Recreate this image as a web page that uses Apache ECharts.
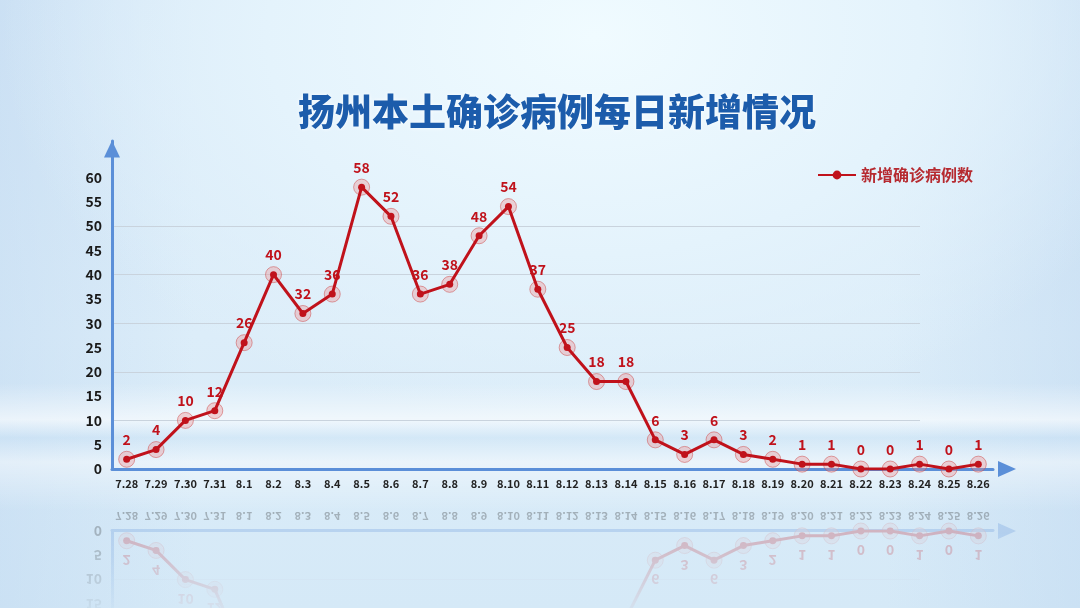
<!DOCTYPE html>
<html>
<head>
<meta charset="utf-8">
<script src="https://cdn.jsdelivr.net/npm/echarts@6/dist/echarts.min.js"></script>
<style>
  html, body { margin: 0; padding: 0; }
  body {
    width: 1080px; height: 608px; overflow: hidden; position: relative;
    background:
      linear-gradient(180deg, rgba(255,255,255,0) 63%, rgba(255,255,255,0.6) 69%, rgba(200,225,245,0.35) 72%, rgba(255,255,255,0.45) 76%, rgba(255,255,255,0) 84%),
      radial-gradient(ellipse 55% 65% at 55% 6%, #f0fbff 0%, #e4f3fc 55%, rgba(228,241,251,0) 100%),
      linear-gradient(90deg, rgba(190,215,240,0.45) 0%, rgba(190,215,240,0) 18%, rgba(190,215,240,0) 82%, rgba(190,215,240,0.45) 100%),
      linear-gradient(180deg, #d6e8f7 0%, #dcedf9 55%, #d5e9f7 100%);
  }
  #chart { position: absolute; left: 0; top: 0; width: 1080px; height: 608px; }
  #mirror {
    position: absolute; left: 0; top: 500px; width: 1080px; height: 108px; overflow: hidden;
    -webkit-mask-image: linear-gradient(180deg, rgba(0,0,0,0.32) 0%, rgba(0,0,0,0.2) 50%, rgba(0,0,0,0.04) 100%);
    mask-image: linear-gradient(180deg, rgba(0,0,0,0.32) 0%, rgba(0,0,0,0.2) 50%, rgba(0,0,0,0.04) 100%);
  }
  #mirrorChart {
    position: absolute; left: 0; top: -500px; width: 1080px; height: 608px;
    transform: scaleY(-1); transform-origin: 50% 500px;
  }
</style>
</head>
<body>
<div id="mirror"><div id="mirrorChart"></div></div>
<div id="chart"></div>
<script>
const titleText = '扬州本土确诊病例每日新增情况';
const seriesName = '新增确诊病例数';
const dates = ['7.28', '7.29', '7.30', '7.31', '8.1', '8.2', '8.3', '8.4', '8.5', '8.6',
  '8.7', '8.8', '8.9', '8.10', '8.11', '8.12', '8.13', '8.14', '8.15', '8.16',
  '8.17', '8.18', '8.19', '8.20', '8.21', '8.22', '8.23', '8.24', '8.25', '8.26'];
const newCases = [2, 4, 10, 12, 26, 40, 32, 36, 58, 52,
  36, 38, 48, 54, 37, 25, 18, 18, 6, 3,
  6, 3, 2, 1, 1, 0, 0, 1, 0, 1];
const yTickMax = 60;

const red = '#c0121b';
const axisBlue = '#5b8fd8';
const font = '"Noto Sans CJK SC", "Noto Sans", sans-serif';

function buildOption(withHeader) {
  const option = {
    animation: false,
    textStyle: { fontFamily: font },
    grid: [
      { left: 112, right: 87, top: 141, bottom: 139 },
      // only for the light gridlines 10..50, which stop short of the axis end
      { left: 112, right: 160, top: 226, bottom: 139 }
    ],
    xAxis: [
      {
        type: 'category', data: dates, gridIndex: 0,
        axisLine: { lineStyle: { color: axisBlue, width: 3 }, symbol: ['none', 'triangle'], symbolSize: [16, 18], symbolOffset: [0, 14] },
        axisTick: { show: false },
        axisLabel: { interval: 0, color: '#222', fontSize: 11, fontWeight: 'bold', margin: 9, fontFamily: font }
      },
      { type: 'value', gridIndex: 1, show: false, min: 0, max: 1 }
    ],
    yAxis: [
      {
        type: 'value', gridIndex: 0, min: 0, max: 67.5, interval: 5,
        axisLine: { show: true, lineStyle: { color: axisBlue, width: 3 }, symbol: ['none', 'triangle'], symbolSize: [16, 17], symbolOffset: [0, -8] },
        axisTick: { show: false },
        splitLine: { show: false },
        axisLabel: {
          color: '#1a1a1a', fontSize: 14, fontWeight: 'bold', margin: 10, fontFamily: font,
          formatter: v => (v <= yTickMax ? String(v) : '')
        }
      },
      {
        type: 'value', gridIndex: 1, min: 0, max: 50, interval: 10,
        axisLine: { show: false }, axisTick: { show: false }, axisLabel: { show: false },
        splitLine: { show: true, lineStyle: { color: '#c9d3dd', width: 1 } }
      }
    ],
    series: [
      {
        name: 'halo', type: 'line', data: newCases, z: 1, silent: true,
        lineStyle: { width: 0 }, symbol: 'circle', symbolSize: 16,
        itemStyle: { color: 'rgba(238,140,140,0.35)', borderColor: 'rgba(205,70,70,0.5)', borderWidth: 1 }
      },
      {
        name: seriesName, type: 'line', data: newCases, z: 3,
        lineStyle: { color: red, width: 3 },
        symbol: 'circle', symbolSize: 7, showAllSymbol: true,
        itemStyle: { color: red },
        label: { show: true, position: 'top', distance: 9, color: red, fontSize: 14, fontWeight: 'bold', fontFamily: font }
      }
    ]
  };
  if (withHeader) {
    option.title = {
      text: titleText, left: 293, top: 88,
      textStyle: {
        fontFamily: font, fontSize: 37, fontWeight: 900, color: '#1c5cab',
        textShadowColor: 'rgba(255,255,255,0.9)', textShadowBlur: 4
      }
    };
    option.legend = {
      data: [seriesName], left: 812, top: 162, itemWidth: 38, itemHeight: 11, itemGap: 10,
      textStyle: { color: '#b62a30', fontSize: 16, fontWeight: 'bold', fontFamily: font }
    };
  }
  return option;
}

const chart = echarts.init(document.getElementById('chart'));
chart.setOption(buildOption(true));
const mirror = echarts.init(document.getElementById('mirrorChart'));
mirror.setOption(buildOption(false));
</script>
</body>
</html>
